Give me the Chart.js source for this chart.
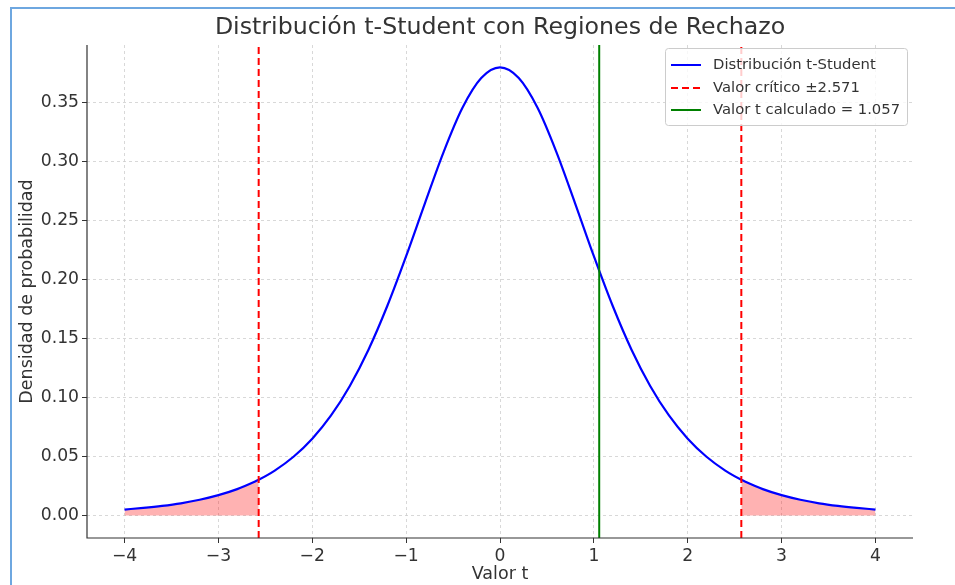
<!DOCTYPE html>
<html>
<head>
<meta charset="utf-8">
<script src="https://cdn.jsdelivr.net/npm/chart.js@4"></script>
<style>
  html, body { margin: 0; padding: 0; background: #fff; }
  #wrap { position: relative; width: 955px; height: 585px; }
  #frame { position: absolute; left: 10px; top: 7px; right: -4px; bottom: -4px;
           border-left: 2px solid #6ea7e0; border-top: 2px solid #6ea7e0; pointer-events: none; }
</style>
</head>
<body>
<div id="wrap">
  <canvas id="grafico" width="955" height="585"></canvas>
  <div id="frame"></div>
</div>
<script>
// valores (gl = 5)
const tValues = [-4.0, -3.8, -3.6, -3.4, -3.2, -3.0, -2.8, -2.6, -2.571, -2.4, -2.2, -2.0, -1.8, -1.6, -1.4, -1.2, -1.0, -0.8, -0.6, -0.4, -0.2,
  0.0, 0.2, 0.4, 0.6, 0.8, 1.0, 1.2, 1.4, 1.6, 1.8, 2.0, 2.2, 2.4, 2.571, 2.6, 2.8, 3.0, 3.2, 3.4, 3.6, 3.8, 4.0];
const density = [0.0051, 0.0065, 0.0082, 0.0104, 0.0134, 0.0173, 0.0224, 0.0292, 0.0303, 0.0381, 0.0498, 0.0651, 0.0848, 0.1098, 0.1407, 0.1777, 0.2197, 0.2645, 0.3081, 0.3454, 0.3706,
  0.3796, 0.3706, 0.3454, 0.3081, 0.2645, 0.2197, 0.1777, 0.1407, 0.1098, 0.0848, 0.0651, 0.0498, 0.0381, 0.0303, 0.0292, 0.0224, 0.0173, 0.0134, 0.0104, 0.0082, 0.0065, 0.0051];
const valorCritico = 2.571;
const valorT = 1.057;

const xTicks = [-4, -3, -2, -1, 0, 1, 2, 3, 4];
const yTicks = [0.00, 0.05, 0.10, 0.15, 0.20, 0.25, 0.30, 0.35];
const xLimits = [-4.4, 4.4];
const yLimits = [-0.019, 0.3986];

const legendLabels = ["Distribución t-Student", "Valor crítico ±2.571", "Valor t calculado = 1.057"];
const titulo = "Distribución t-Student con Regiones de Rechazo";
const xLabel = "Valor t";
const yLabel = "Densidad de probabilidad";

const FONT = "'DejaVu Sans', sans-serif";
const TXT = "#333333";

const curva = tValues.map((t, i) => ({ x: t, y: density[i] }));
const colaIzq = curva.filter(p => p.x <= -valorCritico);
const colaDer = curva.filter(p => p.x >= valorCritico);
const vline = x => [{ x: x, y: yLimits[0] }, { x: x, y: yLimits[1] }];

// textos, ejes y leyenda dibujados a mano
const extras = {
  id: "extras",
  afterDraw(chart) {
    const ctx = chart.ctx;
    const a = chart.chartArea;
    ctx.save();
    // ejes (spines)
    ctx.strokeStyle = "#333";
    ctx.lineWidth = 1.2;
    ctx.beginPath();
    ctx.moveTo(a.left, a.top);
    ctx.lineTo(a.left, a.bottom);
    ctx.lineTo(a.right, a.bottom);
    ctx.stroke();

    ctx.fillStyle = TXT;
    ctx.textAlign = "center";
    ctx.textBaseline = "middle";
    ctx.font = "23.7px " + FONT;
    ctx.fillText(titulo, (a.left + a.right) / 2, 28);
    ctx.font = "17.5px " + FONT;
    ctx.fillText(xLabel, (a.left + a.right) / 2, 574);
    ctx.save();
    ctx.translate(27, (a.top + a.bottom) / 2);
    ctx.rotate(-Math.PI / 2);
    ctx.fillText(yLabel, 0, 0);
    ctx.restore();

    // leyenda
    const lx = 665, ly = 48, lw = 242, lh = 77;
    ctx.fillStyle = "rgba(255,255,255,0.8)";
    ctx.strokeStyle = "#cccccc";
    ctx.lineWidth = 1;
    ctx.beginPath();
    ctx.roundRect(lx + 0.5, ly + 0.5, lw, lh, 3);
    ctx.fill();
    ctx.stroke();
    const estilos = [
      { color: "#0000ff", dash: [] },
      { color: "#ff0000", dash: [7, 4] },
      { color: "#008000", dash: [] }
    ];
    const filas = [65, 88, 110];
    ctx.font = "14.8px " + FONT;
    ctx.textAlign = "left";
    legendLabels.forEach((txt, i) => {
      ctx.strokeStyle = estilos[i].color;
      ctx.lineWidth = 2;
      ctx.setLineDash(estilos[i].dash);
      ctx.beginPath();
      ctx.moveTo(671, filas[i]);
      ctx.lineTo(701, filas[i]);
      ctx.stroke();
      ctx.setLineDash([]);
      ctx.fillStyle = TXT;
      ctx.fillText(txt, 713, filas[i]);
    });
    ctx.restore();
  }
};

const fmtX = v => (v < 0 ? "\u2212" + Math.abs(v) : String(v));

new Chart(document.getElementById("grafico"), {
  type: "line",
  data: {
    datasets: [
      { data: vline(-valorCritico), borderColor: "#ff0000", borderWidth: 2, borderDash: [7, 4], pointRadius: 0, tension: 0 },
      { data: vline(valorCritico), borderColor: "#ff0000", borderWidth: 2, borderDash: [7, 4], pointRadius: 0, tension: 0 },
      { data: vline(valorT), borderColor: "#008000", borderWidth: 2, pointRadius: 0, tension: 0 },
      { data: curva, borderColor: "#0000ff", borderWidth: 2.2, pointRadius: 0, cubicInterpolationMode: "monotone" },
      { data: colaIzq, borderWidth: 0, borderColor: "rgba(0,0,0,0)", backgroundColor: "rgba(255,0,0,0.3)", fill: "origin", pointRadius: 0, cubicInterpolationMode: "monotone" },
      { data: colaDer, borderWidth: 0, borderColor: "rgba(0,0,0,0)", backgroundColor: "rgba(255,0,0,0.3)", fill: "origin", pointRadius: 0, cubicInterpolationMode: "monotone" }
    ]
  },
  options: {
    responsive: false,
    animation: false,
    layout: { padding: { top: 45, right: 42, bottom: 0, left: 0 } },
    plugins: { legend: { display: false }, tooltip: { enabled: false }, title: { display: false } },
    scales: {
      x: {
        type: "linear",
        min: xLimits[0],
        max: xLimits[1],
        afterBuildTicks: s => { s.ticks = xTicks.map(v => ({ value: v })); },
        afterFit: s => { s.height = 47; },
        ticks: { callback: v => fmtX(v), color: TXT, font: { family: FONT, size: 17.2 }, padding: 3, maxRotation: 0 },
        grid: { color: "#cfcfcf", lineWidth: 0.8, tickColor: "#333", tickLength: 5, tickWidth: 1 },
        border: { display: false, dash: [3, 3] }
      },
      y: {
        type: "linear",
        min: yLimits[0],
        max: yLimits[1],
        afterBuildTicks: s => { s.ticks = yTicks.map(v => ({ value: v })); },
        afterFit: s => { s.width = 87; },
        ticks: { callback: v => v.toFixed(2), color: TXT, font: { family: FONT, size: 17.2 }, padding: 3 },
        grid: { color: "#cfcfcf", lineWidth: 0.8, tickColor: "#333", tickLength: 5, tickWidth: 1 },
        border: { display: false, dash: [3, 3] }
      }
    }
  },
  plugins: [extras]
});
</script>
</body>
</html>
